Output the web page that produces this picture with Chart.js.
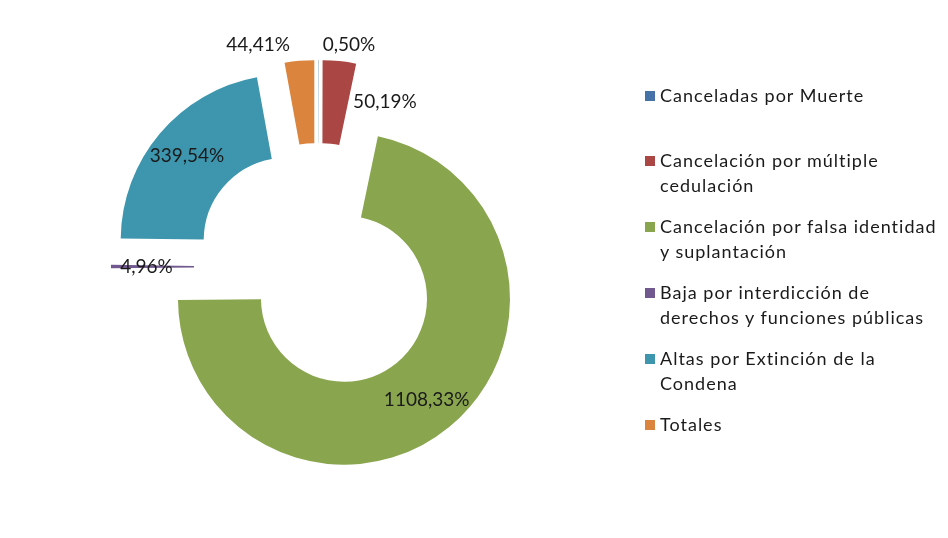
<!DOCTYPE html>
<html>
<head>
<meta charset="utf-8">
<script src="https://cdn.jsdelivr.net/npm/chart.js@4/dist/chart.umd.min.js"></script>
<style>
  html, body { margin: 0; padding: 0; background: #ffffff; }
  #wrap { position: relative; width: 948px; height: 538px; }
  #c { position: absolute; left: 0; top: 0; }
  #legend { position: absolute; left: 0; top: 0; width: 948px; height: 538px; pointer-events: none;
            font-family: Lato, "Noto Sans", sans-serif; font-size: 18px; color: #1a1a1a; }
  .item { position: absolute; left: 660px; line-height: 25px; letter-spacing: 1px; white-space: nowrap; }
  .sw { position: absolute; left: -15px; top: 8px; width: 10px; height: 10px; }
</style>
</head>
<body>
<div id="wrap">
  <canvas id="c" width="948" height="538"></canvas>
  <div id="legend"></div>
</div>
<script>
const categories = [
  "Canceladas por Muerte",
  "Cancelación por múltiple cedulación",
  "Cancelación por falsa identidad y suplantación",
  "Baja por interdicción de derechos y funciones públicas",
  "Altas por Extinción de la Condena",
  "Totales"
];
const legendLines = [
  ["Canceladas por Muerte"],
  ["Cancelación por múltiple", "cedulación"],
  ["Cancelación por falsa identidad", "y suplantación"],
  ["Baja por interdicción de", "derechos y funciones públicas"],
  ["Altas por Extinción de la", "Condena"],
  ["Totales"]
];
const values = [0.50, 50.19, 1108.33, 4.96, 339.54, 44.41];
const valueLabels = ["0,50%", "50,19%", "1108,33%", "4,96%", "339,54%", "44,41%"];
const colors = ["#4572A7", "#AA4643", "#89A54E", "#71588F", "#3D96AE", "#DB843D"];

// label placement: null angle => centered in slice; otherwise [angleDeg clockwise from top, distance px from exploded centre]
const labelPlacement = [[9.7, 184], [26.8, 139], null, null, null, [342.8, 190]];
const EXPLODE = 41;

const explodePlugin = {
  id: 'explode',
  afterUpdate(chart) {
    chart.getDatasetMeta(0).data.forEach(arc => {
      if (arc._exploded) return;
      const orig = arc.draw;
      arc.draw = function (ctx) {
        const mid = (this.startAngle + this.endAngle) / 2;
        ctx.save();
        ctx.translate(Math.cos(mid) * EXPLODE, Math.sin(mid) * EXPLODE);
        orig.call(this, ctx);
        ctx.restore();
      };
      arc._exploded = true;
    });
  }
};

const labelPlugin = {
  id: 'sliceLabels',
  afterDatasetsDraw(chart) {
    const ctx = chart.ctx;
    const meta = chart.getDatasetMeta(0);
    ctx.save();
    ctx.font = '19px Lato, "Noto Sans", sans-serif';
    ctx.fillStyle = '#1a1a1a';
    ctx.textAlign = 'center';
    ctx.textBaseline = 'middle';
    meta.data.forEach((arc, i) => {
      const p = arc.getProps(['x', 'y', 'startAngle', 'endAngle', 'innerRadius', 'outerRadius'], true);
      const mid = (p.startAngle + p.endAngle) / 2;
      const cx = p.x + Math.cos(mid) * EXPLODE;
      const cy = p.y + Math.sin(mid) * EXPLODE;
      let ang, dist;
      if (labelPlacement[i]) {
        ang = (labelPlacement[i][0] - 90) * Math.PI / 180;
        dist = labelPlacement[i][1];
      } else {
        ang = mid;
        dist = (p.innerRadius + p.outerRadius) / 2 + 6;
      }
      ctx.fillText(valueLabels[i], cx + Math.cos(ang) * dist, cy + Math.sin(ang) * dist);
    });
    ctx.restore();
  }
};

new Chart(document.getElementById('c'), {
  type: 'doughnut',
  data: {
    labels: categories,
    datasets: [{
      data: values,
      backgroundColor: colors,
      borderWidth: 0,
      offset: 0,
      hoverOffset: 0
    }]
  },
  options: {
    responsive: false,
    animation: false,
    radius: 166,
    cutout: '50%',
    layout: { padding: { left: 118, right: 430, top: 67, bottom: 71 } },
    plugins: {
      legend: { display: false },
      tooltip: { enabled: false }
    },
    events: []
  },
  plugins: [explodePlugin, labelPlugin]
});

const legend = document.getElementById('legend');
legendLines.forEach((lines, i) => {
  const d = document.createElement('div');
  d.className = 'item';
  d.style.top = (95 + i * 65.8 - 12.5) + 'px';
  const sw = document.createElement('span');
  sw.className = 'sw';
  sw.style.background = colors[i];
  d.appendChild(sw);
  lines.forEach((t, j) => {
    if (j > 0) d.appendChild(document.createElement('br'));
    d.appendChild(document.createTextNode(t));
  });
  legend.appendChild(d);
});
</script>
</body>
</html>
